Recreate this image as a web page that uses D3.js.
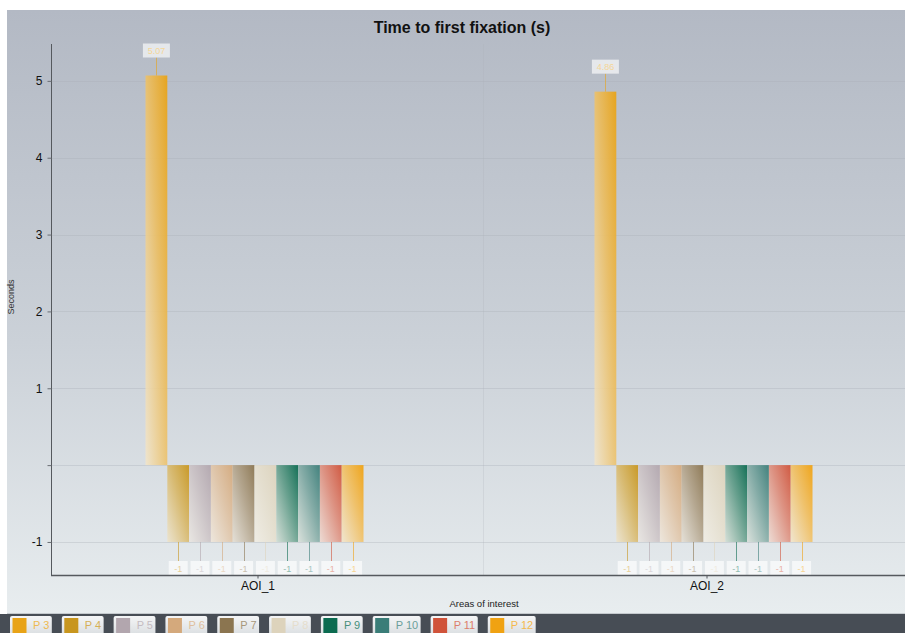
<!DOCTYPE html>
<html>
<head>
<meta charset="utf-8">
<script src="https://cdn.jsdelivr.net/npm/d3@7"></script>
<style>
  html, body { margin: 0; padding: 0; background: #ffffff; }
  svg { display: block; font-family: "Liberation Sans", Arial, sans-serif; }
</style>
</head>
<body>
<svg id="chart" width="905" height="633"></svg>
<script>
// ---- data ----
const categories = ["AOI_1", "AOI_2"];
const series = ["P 3", "P 4", "P 5", "P 6", "P 7", "P 8", "P 9", "P 10", "P 11", "P 12"];
const colors = ["#e8a317", "#c8961e", "#b2a6ae", "#d4a97c", "#8b7550", "#ddd3bc", "#0b6b50", "#3a7d78", "#d0533a", "#f0a212"];
const valuesAOI1 = [5.07, -1, -1, -1, -1, -1, -1, -1, -1, -1];
const valuesAOI2 = [4.86, -1, -1, -1, -1, -1, -1, -1, -1, -1];
const yTicks = [-1, 0, 1, 2, 3, 4, 5];
const yTickLabels = ["-1", "", "1", "2", "3", "4", "5"];
const title = "Time to first fixation (s)";
const xTitle = "Areas of interest";
const yTitle = "Seconds";

const valuesByCat = { "AOI_1": valuesAOI1, "AOI_2": valuesAOI2 };

const svg = d3.select("#chart");
const W = 905, H = 633;
const bgLeft = 7, bgTop = 10, bgBottom = 614;
const plot = { left: 51, right: 905, top: 44, bottom: 575 };

const defs = svg.append("defs");
const bgGrad = defs.append("linearGradient").attr("id", "bgGrad").attr("x1", 0).attr("y1", 0).attr("x2", 0).attr("y2", 1);
bgGrad.append("stop").attr("offset", "0%").attr("stop-color", "#b3b9c4");
bgGrad.append("stop").attr("offset", "55%").attr("stop-color", "#cbd1d8");
bgGrad.append("stop").attr("offset", "100%").attr("stop-color", "#e8edef");

svg.append("rect").attr("x", bgLeft).attr("y", bgTop).attr("width", W - bgLeft).attr("height", bgBottom - bgTop)
  .attr("fill", "url(#bgGrad)");
svg.append("line").attr("x1", bgLeft).attr("x2", W).attr("y1", bgBottom - 0.5).attr("y2", bgBottom - 0.5)
  .attr("stroke", "#c4c9cd").attr("stroke-width", 1);

// legend bar
svg.append("rect").attr("x", 0).attr("y", bgBottom).attr("width", W).attr("height", H - bgBottom).attr("fill", "#474d55");

// scales
const y = d3.scaleLinear().domain([-1.43, 5.48]).range([plot.bottom, plot.top]);
const x = d3.scaleBand().domain(categories).range([33.5, 931.5]);
const inner = d3.scaleBand().domain(series).range([-112.5, 105.5]).padding(0);

// gridlines
const grid = svg.append("g");
grid.selectAll("line.h").data(yTicks).join("line")
  .attr("x1", plot.left).attr("x2", plot.right)
  .attr("y1", d => Math.round(y(d)) + 0.5).attr("y2", d => Math.round(y(d)) + 0.5)
  .attr("stroke", "#aab0b6").attr("stroke-opacity", 0.35);
grid.append("line")
  .attr("x1", Math.round(x("AOI_2")) + 0.5).attr("x2", Math.round(x("AOI_2")) + 0.5)
  .attr("y1", plot.top).attr("y2", plot.bottom)
  .attr("stroke", "#aab0b6").attr("stroke-opacity", 0.25);

// bar gradients
colors.forEach((c, i) => {
  const g = defs.append("linearGradient").attr("id", "barGrad" + i)
    .attr("x1", 1).attr("y1", 0).attr("x2", 0).attr("y2", 1);
  const pale = d3.interpolateRgb(c, "#f4f1ea")(0.85);
  const mid = d3.interpolateRgb(c, "#f4f1ea")(0.35);
  g.append("stop").attr("offset", "0%").attr("stop-color", c).attr("stop-opacity", 0.95);
  g.append("stop").attr("offset", "45%").attr("stop-color", mid).attr("stop-opacity", 0.9);
  g.append("stop").attr("offset", "100%").attr("stop-color", pale).attr("stop-opacity", 0.85);
});

// bars + labels
const fmt = v => (v === -1 ? "-1" : d3.format(".2f")(v));
categories.forEach(cat => {
  const cx = x(cat) + x.bandwidth() / 2;
  const data = valuesByCat[cat].map((v, i) => ({ v, i, s: series[i] }));
  const g = svg.append("g");
  g.selectAll("rect").data(data).join("rect")
    .attr("x", d => cx + inner(d.s))
    .attr("width", inner.bandwidth())
    .attr("y", d => y(Math.max(0, d.v)))
    .attr("height", d => Math.abs(y(d.v) - y(0)))
    .attr("fill", d => `url(#barGrad${d.i})`);

  data.forEach(d => {
    const bx = cx + inner(d.s) + inner.bandwidth() / 2;
    const end = y(d.v);
    const txt = fmt(d.v);
    const bw = txt.length > 2 ? 27 : 19;
    const bh = 14;
    let boxY, l1, l2;
    if (d.v >= 0) {
      boxY = end - 18 - bh; l1 = end; l2 = boxY + bh;
    } else {
      boxY = plot.bottom - bh; l1 = end; l2 = boxY;
    }
    g.append("line").attr("x1", Math.round(bx) + 0.5).attr("x2", Math.round(bx) + 0.5)
      .attr("y1", l1).attr("y2", l2)
      .attr("stroke", colors[d.i]).attr("stroke-opacity", 0.6).attr("stroke-width", 1);
    g.append("rect").attr("x", bx - bw / 2).attr("y", boxY).attr("width", bw).attr("height", bh)
      .attr("fill", "#ffffff").attr("fill-opacity", 0.65);
    g.append("text").attr("x", bx).attr("y", boxY + bh / 2 + 3.5)
      .attr("text-anchor", "middle").attr("font-size", 9)
      .attr("fill", d3.interpolateRgb(colors[d.i], "#ffffff")(0.55))
      .text(txt);
  });
});

// axes
const yAxis = d3.axisLeft(y).tickValues(yTicks).tickSize(4).tickPadding(5)
  .tickFormat((d, i) => yTickLabels[i]);
const yg = svg.append("g").attr("transform", `translate(${plot.left + 0.5},0)`).call(yAxis);
yg.select(".domain").attr("stroke", "#55595e").attr("d", `M0,${plot.top}V${plot.bottom}`);
yg.selectAll(".tick line").attr("stroke", "#6a6e73");
yg.selectAll(".tick text").attr("font-size", 12).attr("fill", "#111");

const xAxis = d3.axisBottom(x).tickSize(3).tickPadding(3);
const xg = svg.append("g").attr("transform", `translate(0,${plot.bottom + 0.5})`).call(xAxis);
xg.select(".domain").attr("stroke", "#55595e").attr("stroke-width", 1.5).attr("d", `M${plot.left},0H${plot.right}`);
xg.selectAll(".tick line").attr("stroke", "#55595e");
xg.selectAll(".tick text").attr("font-size", 12).attr("fill", "#111");

// titles
svg.append("text").attr("x", 462).attr("y", 33).attr("text-anchor", "middle")
  .attr("font-size", 16).attr("font-weight", "bold").attr("fill", "#111").text(title);
svg.append("text").attr("x", 484).attr("y", 607).attr("text-anchor", "middle")
  .attr("font-size", 9.5).attr("fill", "#222").text(xTitle);
svg.append("text").attr("transform", "translate(14,297) rotate(-90)").attr("text-anchor", "middle")
  .attr("font-size", 9).attr("fill", "#333").text(yTitle);

// legend
const legGrad = defs.append("linearGradient").attr("id", "legGrad").attr("x1", 0).attr("y1", 0).attr("x2", 0).attr("y2", 1);
legGrad.append("stop").attr("offset", "0%").attr("stop-color", "#f4f5f6");
legGrad.append("stop").attr("offset", "100%").attr("stop-color", "#d9dde0");
const leg = svg.append("g");
let lx = 10;
series.forEach((s, i) => {
  const item = leg.append("g").attr("transform", `translate(${lx},616)`);
  const t = item.append("text").attr("x", 23).attr("y", 12.5).attr("font-size", 11)
    .attr("fill", d3.interpolateRgb(colors[i], "#ffffff")(0.25)).text(s);
  const tw = t.node().getComputedTextLength();
  const w = tw + 25.5;
  item.insert("rect", "text").attr("x", 0).attr("y", 0).attr("width", w).attr("height", 20).attr("rx", 2)
    .attr("fill", "url(#legGrad)");
  item.insert("rect", "text").attr("x", 2.5).attr("y", 2).attr("width", 14).attr("height", 16)
    .attr("fill", colors[i]);
  lx += w + 10;
});
</script>
</body>
</html>
